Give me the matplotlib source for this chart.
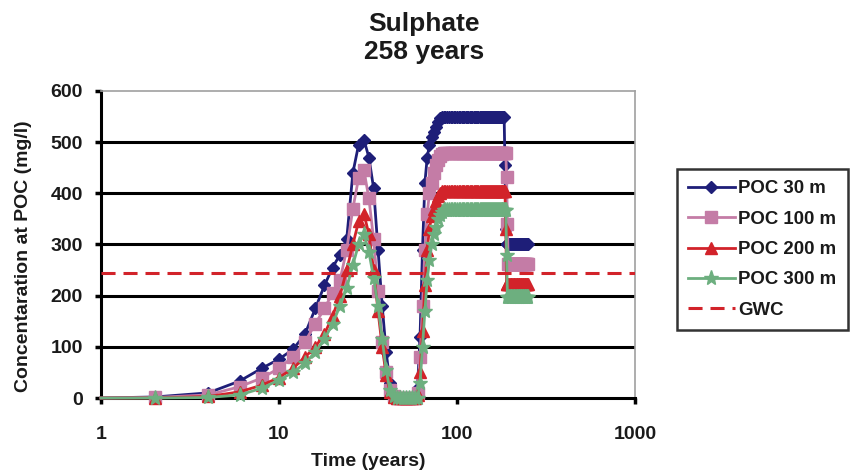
import matplotlib
matplotlib.use('Agg')
import matplotlib.pyplot as plt
import numpy as np
from matplotlib.ticker import NullLocator

plt.rcParams['font.family'] = ['Liberation Sans', 'DejaVu Sans']
plt.rcParams['font.weight'] = 'bold'

# ===== Data (2-year output steps) =====
years = [1] + list(range(2, 252, 2))

poc30 = [0,
         2, 10, 33, 58, 76, 95, 125, 175, 220, 255,
         280, 310, 440, 495, 505, 470, 410, 290, 180, 90,
         30, 8, 2, 0, 0, 0, 0, 0, 0, 20,
         120, 290, 420, 470, 495, 510, 520, 530, 540, 548,
         550, 550, 550, 550, 550, 550, 550, 550, 550, 550, 550, 550, 550,
         550, 550, 550, 550, 550, 550, 550, 550, 550, 550, 550, 550, 550,
         550, 550, 550, 550, 550, 550, 550, 550, 550, 550, 550, 550, 550,
         550, 550, 550, 550, 550, 550, 550, 550, 550, 550, 550, 550, 550,
         455, 330,
         300, 300, 300, 300, 300, 300, 300, 300, 300, 300, 300, 300, 300,
         300, 300, 300, 300, 300, 300, 300, 300, 300, 300, 300, 300, 300,
         300, 300, 300, 300, 300]

poc100 = [0,
          1, 6, 22, 39, 58, 81, 110, 145, 175, 205,
          230, 290, 370, 430, 445, 390, 310, 210, 110, 50,
          15, 3, 0, 0, 0, 0, 0, 0, 0, 10,
          80, 180, 290, 360, 400, 420, 440, 455, 465, 472,
          476,
          478, 478, 478, 478, 478, 478, 478, 478, 478, 478, 478, 478, 478,
          478, 478, 478, 478, 478, 478, 478, 478, 478, 478, 478, 478, 478,
          478, 478, 478, 478, 478, 478, 478, 478, 478, 478, 478, 478, 478,
          478, 478, 478, 478, 478, 478, 478, 478, 478, 478, 478, 478, 478,
          478,
          432, 340,
          262, 262, 262, 262, 262, 262, 262, 262, 262, 262, 262, 262, 262,
          262, 262, 262, 262, 262, 262, 262, 262, 262, 262, 262, 262, 262,
          262, 262, 262]

poc200 = [0,
          0, 3, 12, 25, 40, 58, 80, 100, 125, 160,
          200, 250, 300, 345, 360, 320, 250, 170, 100, 45,
          12, 2, 0, 0, 0, 0, 0, 0, 0, 5,
          50, 130, 220, 290, 330, 355, 370, 385, 395, 400,
          405, 405, 405, 405, 405, 405, 405, 405, 405, 405, 405, 405, 405,
          405, 405, 405, 405, 405, 405, 405, 405, 405, 405, 405, 405, 405,
          405, 405, 405, 405, 405, 405, 405, 405, 405, 405, 405, 405, 405,
          405, 405, 405, 405, 405, 405, 405, 405, 405, 405, 405, 405, 405,
          405,
          330,
          222, 222, 222, 222, 222, 222, 222, 222, 222, 222, 222, 222, 222,
          222, 222, 222, 222, 222, 222, 222, 222, 222, 222, 222, 222, 222,
          222, 222, 222, 222, 222]

poc300 = [0,
          0, 1, 6, 19, 35, 50, 68, 90, 115, 145,
          180, 215, 260, 300, 320, 285, 235, 180, 115, 55,
          15, 3, 0, 0, 0, 0, 0, 0, 0, 0,
          30, 100, 170, 230, 270, 300, 320, 335, 350, 358,
          363,
          368, 368, 368, 368, 368, 368, 368, 368, 368, 368, 368, 368, 368,
          368, 368, 368, 368, 368, 368, 368, 368, 368, 368, 368, 368, 368,
          368, 368, 368, 368, 368, 368, 368, 368, 368, 368, 368, 368, 368,
          368, 368, 368, 368, 368, 368, 368, 368, 368, 368, 368, 368, 368,
          368,
          280,
          198, 198, 198, 198, 198, 198, 198, 198, 198, 198, 198, 198, 198,
          198, 198, 198, 198, 198, 198, 198, 198, 198, 198, 198, 198, 198,
          198, 198, 198, 198]

gwc = 245

series_labels = ['POC 30 m', 'POC 100 m', 'POC 200 m', 'POC 300 m']
yticks = [0, 100, 200, 300, 400, 500, 600]
xticks = [1, 10, 100, 1000]
xticklabels = ['1', '10', '100', '1000']

# ===== Styling =====
colors = ['#1E1E78', '#C47CA6', '#D2232A', '#6DAF7F']
markers = ['D', 's', '^', '*']
msizes = [6.5, 8.5, 8, 11]
gwc_color = '#D2232A'
txt = '#1a1a1a'

fig = plt.figure(figsize=(8.53, 4.73), dpi=100)
ax = fig.add_axes([101 / 853, 1 - 398 / 473, 534 / 853, 307 / 473])

for v in yticks[1:-1]:
    ax.axhline(v, color='black', lw=2.2, zorder=1)

for vals, lab, c, m, ms in zip([poc30, poc100, poc200, poc300], series_labels,
                               colors, markers, msizes):
    ax.plot(years, vals, color=c, lw=2, marker=m, ms=ms, mfc=c, mec=c,
            markevery=slice(1, None), label=lab, clip_on=False, zorder=3)

ax.axhline(gwc, color=gwc_color, lw=2.2, dashes=(4.6, 2.6), label='GWC', zorder=4)

ax.set_xscale('log')
ax.set_xlim(1, 1000)
ax.set_ylim(0, 600)
ax.set_xticks(xticks)
ax.set_xticklabels(xticklabels)
ax.xaxis.set_minor_locator(NullLocator())
ax.set_yticks(yticks)

ax.tick_params(axis='both', direction='out', length=4, width=2.5, color='black',
               labelsize=14, labelcolor=txt)
ax.tick_params(axis='x', pad=16)
ax.tick_params(axis='y', pad=9)

for s in ['left', 'bottom']:
    ax.spines[s].set_color('black')
    ax.spines[s].set_linewidth(2.2)
for s in ['top', 'right']:
    ax.spines[s].set_color('#a0a0a0')
    ax.spines[s].set_linewidth(1.2)

fig.text(0.497, 1 - 12 / 473, 'Sulphate\n258 years', ha='center', va='top',
         fontsize=19, fontweight='bold', color=txt)
fig.text(24 / 853, 1 - 256 / 473, 'Concentaration at POC (mg/l)', rotation=90,
         ha='center', va='center', fontsize=14, fontweight='bold', color=txt)
fig.text(368 / 853, 1 - 461 / 473, 'Time (years)', ha='center', va='center',
         fontsize=14, fontweight='bold', color=txt)

leg = fig.legend(loc='upper left', bbox_to_anchor=(677 / 853, 1 - 169 / 473),
                 borderaxespad=0, frameon=True, fancybox=False, edgecolor='black',
                 prop={'size': 13.4, 'weight': 'bold'}, handlelength=2.5,
                 handletextpad=0.2, labelspacing=0.72, borderpad=0.6)
leg.get_frame().set_linewidth(1.8)
for t in leg.get_texts():
    t.set_color(txt)

fig.savefig('out.png', dpi=100, facecolor='white')
